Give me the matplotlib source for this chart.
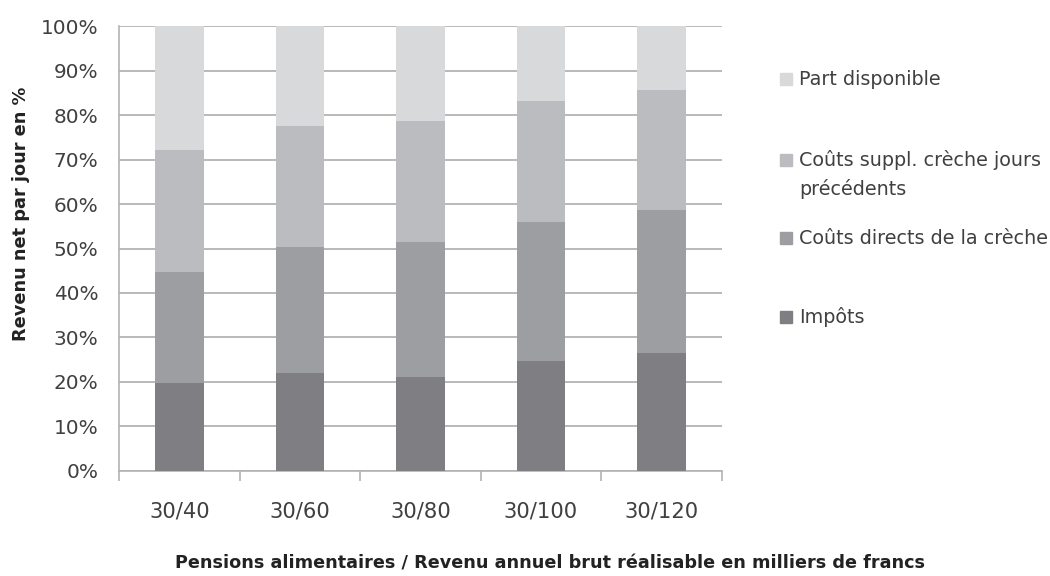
import matplotlib
matplotlib.use("Agg")
import matplotlib.pyplot as plt
from matplotlib.patches import Rectangle
from matplotlib.textpath import TextPath
from matplotlib.font_manager import FontProperties
import numpy as np

categories = ["30/40", "30/60", "30/80", "30/100", "30/120"]
impots = [19.8, 21.9, 21.1, 24.6, 26.4]
couts_directs = [24.8, 28.5, 30.4, 31.4, 32.3]
couts_suppl = [27.6, 27.2, 27.2, 27.2, 27.0]
part_disponible = [27.8, 22.4, 21.3, 16.8, 14.3]

series = [impots, couts_directs, couts_suppl, part_disponible]
labels = ["Impôts", "Coûts directs de la crèche",
          "Coûts suppl. crèche jours\nprécédents", "Part disponible"]
colors = ["#7f7f83", "#9d9ea2", "#bbbcc0", "#d8d9db"]
ytick_labels = [f"{v}%" for v in range(0, 101, 10)]
ylabel = "Revenu net par jour en %"
xlabel = "Pensions alimentaires / Revenu annuel brut réalisable en milliers de francs"

FAM = "DejaVu Sans"
plt.rcParams['font.family'] = [FAM]
DPI = 100


def fit(text, target_px, weight="normal"):
    fp = FontProperties(family=FAM, weight=weight)
    w = TextPath((0, 0), text, size=10, prop=fp).get_extents().width / 10.0
    return target_px * 72.0 / DPI / w


W, H = 1050, 576
fig = plt.figure(figsize=(W / DPI, H / DPI), dpi=DPI)
ax = fig.add_axes([119.3 / W, 1 - 470.7 / H, (721.7 - 119.3) / W, (470.7 - 26.3) / H])

x = np.arange(len(categories))
bottom = np.zeros(len(categories))
for vals, col, lab in zip(series, colors, labels):
    ax.bar(x, vals, bottom=bottom, width=0.4, color=col, label=lab, zorder=3)
    bottom += np.array(vals)

tick_col = "#404040"
grid_col = "#b3b3b3"

ax.set_xlim(-0.5, len(categories) - 0.5)
ax.set_ylim(0, 100)
ax.set_yticks(np.arange(0, 101, 10))
ax.set_yticklabels(ytick_labels, fontsize=fit("100%", 54), color=tick_col)
ax.yaxis.grid(True, color=grid_col, linewidth=1.3, zorder=0)
ax.tick_params(axis='y', length=0, pad=15)

ax.set_xticks(x)
ax.set_xticklabels(categories, fontsize=fit("30/40", 58), color=tick_col)
ax.set_xticks(np.arange(-0.5, len(categories), 1), minor=True)
ax.tick_params(axis='x', which='major', length=0, pad=22)
ax.tick_params(axis='x', which='minor', length=7, width=1.2, color=grid_col)

for s in ["top", "right"]:
    ax.spines[s].set_visible(False)
for s in ["left", "bottom"]:
    ax.spines[s].set_color(grid_col)
    ax.spines[s].set_linewidth(1.2)

fig.text(21 / W, 1 - 214 / H, ylabel, rotation=90,
         ha="center", va="center", fontsize=fit(ylabel, 252, "bold"),
         fontweight="bold", color="#222222")
fig.text(550 / W, 1 - 564 / H, xlabel,
         ha="center", va="center", fontsize=fit(xlabel, 745, "bold"),
         fontweight="bold", color="#222222")

# legend (manual, top to bottom: reverse of stack order)
leg_fs = fit("Coûts directs de la crèche", 247)
leg_y = [79.3, 159.7, 238.0, 317.0]
line_gap = 29.0
for yy, lab, col in zip(leg_y, labels[::-1], colors[::-1]):
    fig.patches.append(Rectangle((780 / W, 1 - (yy + 6) / H), 12 / W, 12 / H,
                                 transform=fig.transFigure, color=col))
    for i, line in enumerate(lab.split("\n")):
        fig.text(799 / W, 1 - (yy + i * line_gap) / H, line, ha="left", va="center",
                 fontsize=leg_fs, color=tick_col)

fig.savefig("out.png", dpi=DPI)
